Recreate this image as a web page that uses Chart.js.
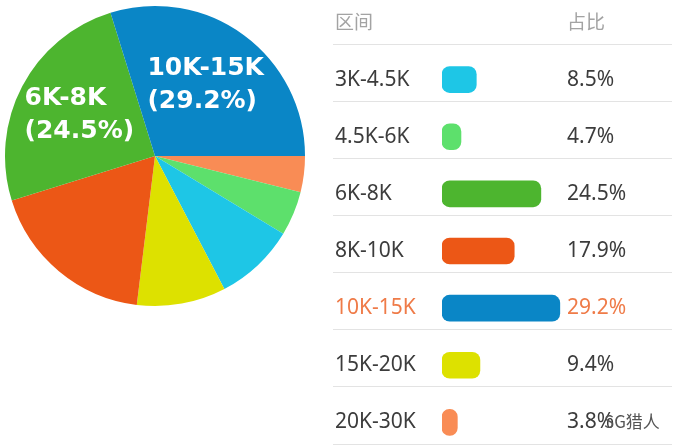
<!DOCTYPE html>
<html>
<head>
<meta charset="utf-8">
<script src="https://cdn.jsdelivr.net/npm/chart.js@4.4.0/dist/chart.umd.min.js"></script>
<style>
  html, body { margin: 0; padding: 0; background: #fff; width: 679px; height: 447px; overflow: hidden; }
  #pieChart { position: absolute; left: 0; top: 1px; }
  #barChart { position: absolute; left: 333px; top: 0; }
  #mark { position: absolute; left: 604px; top: 408px; font: 17px "Noto Sans CJK SC"; color: #555; }
</style>
</head>
<body>
<canvas id="pieChart" width="310" height="310"></canvas>
<canvas id="barChart" width="346" height="452"></canvas>
<div id="mark">SG猎人</div>
<script>
const categories = ["3K-4.5K", "4.5K-6K", "6K-8K", "8K-10K", "10K-15K", "15K-20K", "20K-30K"];
const shares = [8.5, 4.7, 24.5, 17.9, 29.2, 9.4, 3.8];
const colors = ["#1ec6e6", "#5de06c", "#4db52f", "#ec5716", "#0a86c6", "#dde100", "#f98c55"];
// pie goes clockwise from 3 o'clock: 20K-30K first, 10K-15K last
const pieOrder = [6, 1, 0, 5, 3, 2, 4];
const highlight = 4; // 10K-15K row is drawn in orange

const textColor = (i) => (i === highlight ? "#ef7b48" : "#3c3c3c");

const pieLabels = {
  id: "pieLabels",
  afterDatasetsDraw(chart) {
    const ctx = chart.ctx;
    const meta = chart.getDatasetMeta(0);
    ctx.save();
    ctx.font = 'bold 25px "DejaVu Sans"';
    ctx.fillStyle = "#fff";
    ctx.textBaseline = "middle";
    ctx.textAlign = "left";
    meta.data.forEach((arc, i) => {
      const idx = pieOrder[i];
      if (shares[idx] < 20) return;
      const { x, y, startAngle, endAngle, outerRadius } = arc.getProps(
        ["x", "y", "startAngle", "endAngle", "outerRadius"], true);
      const mid = (startAngle + endAngle) / 2;
      const cx = x + Math.cos(mid) * outerRadius * 0.57;
      const cy = y + Math.sin(mid) * outerRadius * 0.59;
      const lines = [categories[idx], "(" + shares[idx].toFixed(1) + "%)"];
      const w = Math.max(...lines.map((l) => ctx.measureText(l).width));
      ctx.fillText(lines[0], cx - w / 2, cy - 16.5);
      ctx.fillText(lines[1], cx - w / 2, cy + 16.5);
    });
    ctx.restore();
  },
};

new Chart(document.getElementById("pieChart"), {
  type: "pie",
  data: {
    labels: pieOrder.map((i) => categories[i]),
    datasets: [{
      data: pieOrder.map((i) => shares[i]),
      backgroundColor: pieOrder.map((i) => colors[i]),
      borderWidth: 0,
    }],
  },
  options: {
    responsive: false,
    animation: false,
    rotation: 90,
    layout: { padding: 5 },
    plugins: { legend: { display: false }, tooltip: { enabled: false } },
  },
  plugins: [pieLabels],
});

const tableRules = {
  id: "tableRules",
  beforeDatasetsDraw(chart) {
    const { ctx, chartArea, scales } = chart;
    ctx.save();
    ctx.strokeStyle = "#e3e3e3";
    ctx.lineWidth = 1;
    for (let i = 0; i <= categories.length; i++) {
      const yy = Math.round(scales.y.getPixelForValue(i - 0.5) - 7.5) + 0.5;
      ctx.beginPath();
      ctx.moveTo(0, yy);
      ctx.lineTo(chartArea.right, yy);
      ctx.stroke();
    }
    ctx.restore();
  },
  afterDatasetsDraw(chart) {
    const { ctx, chartArea, scales } = chart;
    const pctX = chartArea.left + 125;
    ctx.save();
    ctx.textBaseline = "middle";
    ctx.textAlign = "left";
    // header row
    const headY = scales.y.getPixelForValue(-0.5) - 7.5 - 22;
    ctx.font = '19px "Noto Sans CJK SC"';
    ctx.fillStyle = "#a3a3a3";
    ctx.fillText("区间", 2, headY);
    ctx.fillText("占比", pctX, headY);
    // percent column
    ctx.font = '21px "Noto Sans"';
    shares.forEach((v, i) => {
      ctx.fillStyle = textColor(i);
      ctx.fillText(v.toFixed(1) + "%", pctX, scales.y.getPixelForValue(i));
    });
    ctx.restore();
  },
};

new Chart(document.getElementById("barChart"), {
  type: "bar",
  data: {
    labels: categories,
    datasets: [{
      data: shares,
      backgroundColor: colors,
      barThickness: 26,
      borderRadius: 8,
      borderSkipped: false,
    }],
  },
  options: {
    indexAxis: "y",
    responsive: false,
    animation: false,
    layout: { padding: { top: 51, bottom: 1, left: 2, right: 7 } },
    plugins: { legend: { display: false }, tooltip: { enabled: false } },
    scales: {
      x: { display: false, min: 0, max: 57 },
      y: {
        grid: { display: false },
        border: { display: false },
        ticks: {
          crossAlign: "far",
          color: (c) => textColor(c.index),
          font: { family: "Noto Sans", size: 21 },
        },
        afterFit(axis) {
          axis.width = 107;
          axis.paddingTop = 0;
          axis.paddingBottom = 0;
        },
      },
    },
  },
  plugins: [tableRules],
});
</script>
</body>
</html>
